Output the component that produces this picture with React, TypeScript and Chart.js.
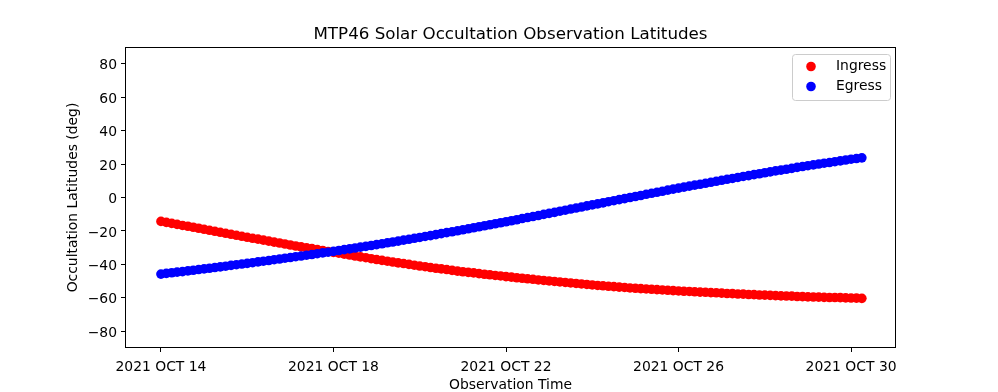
import React, { useEffect, useRef } from "react";
import { Chart, registerables } from "chart.js";

Chart.register(...registerables);

// Observation times in hours after 2021 OCT 14 00:00
const hours = [
  0, 3, 6, 9, 12, 15, 18, 21, 24, 27, 30, 33, 36, 39, 42, 45, 48, 51, 54, 57, 60, 63, 66, 69,
  72, 75, 78, 81, 84, 87, 90, 93, 96, 99, 102, 105, 108, 111, 114, 117, 120, 123, 126, 129, 132, 135, 138, 141,
  144, 147, 150, 153, 156, 159, 162, 165, 168, 171, 174, 177, 180, 183, 186, 189, 192, 195, 198, 201, 204, 207, 210, 213,
  216, 219, 222, 225, 228, 231, 234, 237, 240, 243, 246, 249, 252, 255, 258, 261, 264, 267, 270, 273, 276, 279, 282, 285,
  288, 291, 294, 297, 300, 303, 306, 309, 312, 315, 318, 321, 324, 327, 330, 333, 336, 339, 342, 345, 348, 351, 354, 357,
  360, 363, 366, 369, 372, 375, 378, 381, 384, 387, 390,
];

const ingress = [
  -14.3, -14.9, -15.5, -16.1, -16.7, -17.2, -17.8, -18.4,
  -19.0, -19.6, -20.2, -20.8, -21.4, -22.0, -22.6, -23.2,
  -23.8, -24.4, -24.9, -25.5, -26.1, -26.7, -27.2, -27.8,
  -28.4, -29.0, -29.5, -30.1, -30.6, -31.2, -31.7, -32.3,
  -32.8, -33.3, -33.9, -34.4, -35.0, -35.5, -36.0, -36.6,
  -37.1, -37.6, -38.1, -38.6, -39.1, -39.5, -40.0, -40.5,
  -41.0, -41.4, -41.9, -42.3, -42.7, -43.1, -43.6, -44.0,
  -44.4, -44.8, -45.1, -45.5, -45.9, -46.2, -46.6, -46.9,
  -47.3, -47.6, -48.0, -48.3, -48.6, -48.9, -49.3, -49.6,
  -49.9, -50.2, -50.5, -50.8, -51.1, -51.4, -51.7, -52.0,
  -52.3, -52.6, -52.8, -53.1, -53.3, -53.6, -53.8, -54.1,
  -54.3, -54.5, -54.7, -54.9, -55.1, -55.3, -55.5, -55.7,
  -55.9, -56.1, -56.2, -56.4, -56.6, -56.7, -56.9, -57.0,
  -57.2, -57.4, -57.5, -57.7, -57.8, -58.0, -58.1, -58.3,
  -58.4, -58.5, -58.7, -58.8, -58.9, -59.0, -59.2, -59.3,
  -59.4, -59.5, -59.6, -59.7, -59.8, -59.8, -59.9, -60.0,
  -60.1, -60.2, -60.3,
];

const egress = [
  -45.8, -45.4, -45.0, -44.6, -44.3, -43.9, -43.5, -43.1,
  -42.7, -42.3, -41.9, -41.5, -41.1, -40.6, -40.2, -39.8,
  -39.4, -39.0, -38.5, -38.1, -37.7, -37.2, -36.8, -36.3,
  -35.9, -35.4, -35.0, -34.5, -34.1, -33.6, -33.1, -32.7,
  -32.2, -31.7, -31.2, -30.7, -30.2, -29.7, -29.2, -28.7,
  -28.2, -27.7, -27.1, -26.6, -26.1, -25.5, -25.0, -24.4,
  -23.9, -23.3, -22.8, -22.2, -21.6, -21.0, -20.5, -19.9,
  -19.3, -18.7, -18.1, -17.5, -16.9, -16.3, -15.7, -15.1,
  -14.5, -13.9, -13.3, -12.6, -12.0, -11.4, -10.8, -10.1,
  -9.5, -8.9, -8.2, -7.6, -6.9, -6.3, -5.7, -5.0,
  -4.4, -3.8, -3.2, -2.5, -1.9, -1.3, -0.7, 0.0,
  0.6, 1.2, 1.9, 2.5, 3.1, 3.7, 4.4, 5.0,
  5.6, 6.2, 6.8, 7.4, 7.9, 8.5, 9.1, 9.7,
  10.3, 10.9, 11.4, 12.0, 12.6, 13.1, 13.7, 14.2,
  14.8, 15.3, 15.9, 16.4, 16.9, 17.4, 18.0, 18.5,
  19.0, 19.5, 20.0, 20.5, 20.9, 21.4, 21.9, 22.4,
  22.9, 23.3, 23.7,
];

const xTickValues = [0, 96, 192, 288, 384];
const xTickLabels = ["2021 OCT 14", "2021 OCT 18", "2021 OCT 22", "2021 OCT 26", "2021 OCT 30"];
const yTickValues = [-80, -60, -40, -20, 0, 20, 40, 60, 80];

const TITLE = "MTP46 Solar Occultation Observation Latitudes";
const X_TITLE = "Observation Time";
const Y_TITLE = "Occultation Latitudes (deg)";
const seriesNames = ["Ingress", "Egress"];
const seriesColors = ["#ff0000", "#0000ff"];

const FONT = "'DejaVu Sans', sans-serif";

export default function App() {
  const ref = useRef<HTMLCanvasElement>(null);
  useEffect(() => {
    if (!ref.current) return;
    const decor = {
      id: "decor",
      afterDraw(chart: any) {
        const { ctx, chartArea } = chart;
        const { left, top, right, bottom } = chartArea;
        ctx.save();
        // frame
        ctx.strokeStyle = "#000";
        ctx.lineWidth = 1;
        ctx.strokeRect(left + 0.5, top + 0.5, right - left - 1, bottom - top - 1);
        // title
        ctx.fillStyle = "#000";
        ctx.textAlign = "center";
        ctx.textBaseline = "alphabetic";
        ctx.font = `16.7px ${FONT}`;
        ctx.fillText(TITLE, (left + right) / 2, 39);
        // x title
        ctx.font = `13.9px ${FONT}`;
        ctx.fillText(X_TITLE, (left + right) / 2, 389);
        // y title
        ctx.save();
        ctx.translate(77, (top + bottom) / 2);
        ctx.rotate(-Math.PI / 2);
        ctx.fillText(Y_TITLE, 0, 0);
        ctx.restore();
        // legend
        const lx = right - 104, ly = top + 7, lw = 98, lh = 46;
        ctx.fillStyle = "rgba(255,255,255,0.8)";
        ctx.strokeStyle = "#cccccc";
        ctx.beginPath();
        (ctx as any).roundRect(lx + 0.5, ly + 0.5, lw, lh, 3);
        ctx.fill();
        ctx.stroke();
        ctx.textAlign = "left";
        ctx.textBaseline = "middle";
        ctx.font = `13.9px ${FONT}`;
        for (let i = 0; i < seriesNames.length; i++) {
          const cy = ly + 12.5 + i * 20;
          ctx.fillStyle = seriesColors[i];
          ctx.beginPath();
          ctx.arc(lx + 19, cy, 4.8, 0, Math.PI * 2);
          ctx.fill();
          ctx.fillStyle = "#000";
          ctx.fillText(seriesNames[i], lx + 44, cy);
        }
        ctx.restore();
      },
    };

    const chart = new Chart(ref.current, {
      type: "scatter",
      data: {
        datasets: [
          {
            label: seriesNames[0],
            data: hours.map((h, i) => ({ x: h, y: ingress[i] })),
            backgroundColor: seriesColors[0],
            borderColor: seriesColors[0],
            borderWidth: 0,
            pointRadius: 4.8,
            order: 1,
          },
          {
            label: seriesNames[1],
            data: hours.map((h, i) => ({ x: h, y: egress[i] })),
            backgroundColor: seriesColors[1],
            borderColor: seriesColors[1],
            borderWidth: 0,
            pointRadius: 4.8,
            order: 0,
          },
        ],
      },
      options: {
        animation: false,
        responsive: false,
        maintainAspectRatio: false,
        events: [],
        layout: { padding: { top: 47, right: 102, left: 0, bottom: 0 } },
        plugins: { legend: { display: false }, title: { display: false }, tooltip: { enabled: false } },
        scales: {
          x: {
            type: "linear",
            min: -20,
            max: 409,
            afterBuildTicks: (s: any) => {
              s.ticks = xTickValues.map((v) => ({ value: v }));
            },
            afterFit: (s: any) => {
              s.height = 44;
            },
            ticks: {
              color: "#000",
              font: { family: FONT, size: 13.9 },
              padding: 7,
              maxRotation: 0,
              autoSkip: false,
              callback: (v: any) => {
                const i = xTickValues.indexOf(Number(v));
                return i >= 0 ? xTickLabels[i] : "";
              },
            },
            grid: { drawOnChartArea: false, drawTicks: true, tickLength: 4, color: "#000" },
            border: { display: false },
          },
          y: {
            type: "linear",
            min: -90,
            max: 90,
            afterBuildTicks: (s: any) => {
              s.ticks = yTickValues.map((v) => ({ value: v }));
            },
            afterFit: (s: any) => {
              s.width = 125;
            },
            ticks: {
              color: "#000",
              font: { family: FONT, size: 13.9 },
              padding: 4,
              labelOffset: 2,
              autoSkip: false,
              callback: (v: any) => (Number(v) < 0 ? "\u2212" + Math.abs(Number(v)) : String(v)),
            },
            grid: { drawOnChartArea: false, drawTicks: true, tickLength: 4, color: "#000" },
            border: { display: false },
          },
        },
      },
      plugins: [decor],
    } as any);
    return () => chart.destroy();
  }, []);

  return (
    <div style={{ position: "fixed", left: 0, top: 0, width: 998, height: 392, background: "#fff" }}>
      <canvas ref={ref} width={998} height={392} style={{ width: 998, height: 392 }} />
    </div>
  );
}
